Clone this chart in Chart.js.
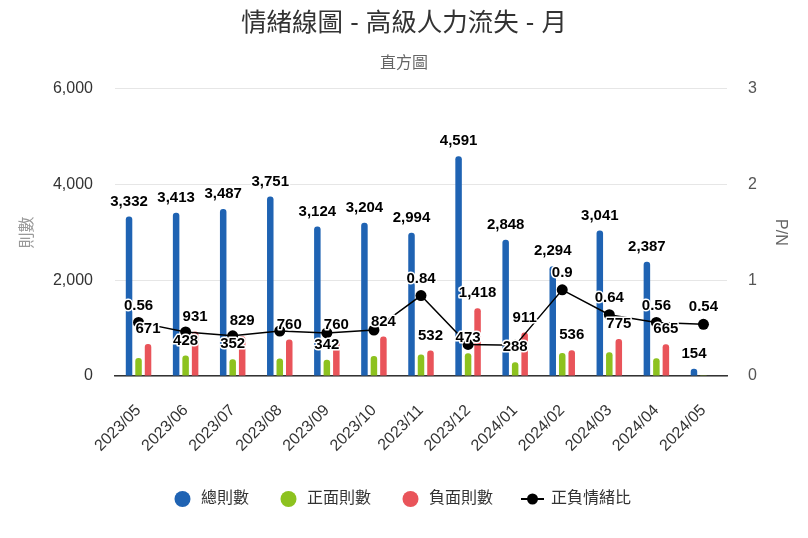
<!DOCTYPE html>
<html>
<head>
<meta charset="utf-8">
<script src="https://cdn.jsdelivr.net/npm/chart.js@4.4.1/dist/chart.umd.min.js"></script>
<style>
  html, body { margin: 0; padding: 0; background: #ffffff; }
  #wrap { width: 808px; height: 538px; }
</style>
</head>
<body>
<div id="wrap"><canvas id="c" width="808" height="538"></canvas></div>
<script>
// ---- data ----
const categories = ['2023/05','2023/06','2023/07','2023/08','2023/09','2023/10','2023/11','2023/12','2024/01','2024/02','2024/03','2024/04','2024/05'];
const totalCounts    = [3332, 3413, 3487, 3751, 3124, 3204, 2994, 4591, 2848, 2294, 3041, 2387, 154];
const positiveCounts = [376, 428, 352, 365, 342, 420, 447, 473, 288, 482, 496, 372, 7];
const negativeCounts = [671, 931, 829, 760, 760, 824, 532, 1418, 911, 536, 775, 665, 13];
const pnRatio        = [0.56, 0.46, 0.42, 0.47, 0.45, 0.48, 0.84, 0.33, 0.32, 0.9, 0.64, 0.56, 0.54];
const countAxisTicks = [0, 2000, 4000, 6000];
const ratioAxisTicks = [0, 1, 2, 3];
const seriesNames = ['總則數', '正面則數', '負面則數', '正負情緒比'];

const FONT = '"Liberation Sans", "Noto Sans CJK TC", Arial, sans-serif';
const BLUE = '#1f63b3', GREEN = '#8dc21f', RED = '#e9545a';
const LABEL_BOX_H = 19.5;

function circleIcon(color) {
  const c = document.createElement('canvas');
  c.width = 22; c.height = 18;
  const g = c.getContext('2d');
  g.fillStyle = color;
  g.beginPath(); g.arc(8.5, 9, 8, 0, Math.PI * 2); g.fill();
  return c;
}
function lineIcon() {
  const c = document.createElement('canvas');
  c.width = 30; c.height = 14;
  const g = c.getContext('2d');
  g.strokeStyle = '#000'; g.lineWidth = 2;
  g.beginPath(); g.moveTo(1, 7); g.lineTo(24, 7); g.stroke();
  g.fillStyle = '#000';
  g.beginPath(); g.arc(12.5, 7, 5.5, 0, Math.PI * 2); g.fill();
  return c;
}
const legendIcons = [circleIcon(BLUE), circleIcon(GREEN), circleIcon(RED), lineIcon()];

const dataLabelPlugin = {
  id: 'dataLabels',
  afterDatasetsDraw(chart) {
    const ctx = chart.ctx;
    ctx.save();
    ctx.font = 'bold 15px ' + FONT;
    const items = [];
    chart.data.datasets.forEach((ds, di) => {
      const meta = chart.getDatasetMeta(di);
      if (meta.hidden) return;
      meta.data.forEach((el, i) => {
        const v = ds.data[i];
        if (v === null || v === undefined) return;
        if (ds.type === 'line') {
          items.push({x: el.x, y: el.y - 17, text: String(v), rank: -1});
        } else {
          items.push({x: el.x, y: el.y - 15, text: v.toLocaleString('en-US'), rank: el.base - el.y});
        }
      });
    });
    items.sort((a, b) => b.rank - a.rank);
    const shown = [];
    for (const it of items) {
      it.w = ctx.measureText(it.text).width;
      const clash = shown.some(s => Math.abs(s.x - it.x) < (s.w + it.w) / 2 && Math.abs(s.y - it.y) < LABEL_BOX_H);
      if (!clash) shown.push(it);
    }
    ctx.textAlign = 'center';
    ctx.textBaseline = 'middle';
    ctx.lineJoin = 'round';
    for (const it of shown) {
      ctx.strokeStyle = '#ffffff';
      ctx.lineWidth = 3;
      ctx.strokeText(it.text, it.x, it.y);
      ctx.fillStyle = '#000000';
      ctx.fillText(it.text, it.x, it.y);
    }
    ctx.restore();
  }
};

const barCommon = {
  type: 'bar',
  yAxisID: 'y',
  categoryPercentage: 0.605,
  barPercentage: 0.685,
  borderRadius: 3,
  borderSkipped: 'bottom',
  order: 1
};

new Chart(document.getElementById('c'), {
  data: {
    labels: categories,
    datasets: [
      Object.assign({}, barCommon, {label: seriesNames[0], data: totalCounts, backgroundColor: BLUE}),
      Object.assign({}, barCommon, {label: seriesNames[1], data: positiveCounts, backgroundColor: GREEN}),
      Object.assign({}, barCommon, {label: seriesNames[2], data: negativeCounts, backgroundColor: RED}),
      {
        type: 'line', label: seriesNames[3], data: pnRatio, yAxisID: 'y1',
        borderColor: '#000', backgroundColor: '#000', borderWidth: 1.5,
        pointRadius: 5.5, pointHoverRadius: 5.5, pointBackgroundColor: '#000', pointBorderWidth: 0,
        tension: 0, order: 0
      }
    ]
  },
  options: {
    responsive: false,
    devicePixelRatio: 1,
    animation: false,
    events: [],
    layout: { padding: { left: 0, right: 0, top: 0, bottom: 21 } },
    plugins: {
      tooltip: { enabled: false },
      title: {
        display: true, text: '情緒線圖 - 高級人力流失 - 月', color: '#333333',
        font: { family: FONT, size: 25.5, weight: 'normal' },
        padding: { top: 9, bottom: 0 }
      },
      subtitle: {
        display: true, text: '直方圖', color: '#666666',
        font: { family: FONT, size: 16, weight: 'normal' },
        padding: { top: 14, bottom: 16 }
      },
      legend: {
        position: 'bottom',
        labels: {
          usePointStyle: true,
          boxWidth: 16, boxHeight: 16,
          padding: 34,
          color: '#333333',
          font: { family: FONT, size: 16 },
          sort: (a, b) => a.datasetIndex - b.datasetIndex,
          generateLabels(chart) {
            const base = Chart.defaults.plugins.legend.labels.generateLabels(chart);
            return base.map(l => Object.assign(l, { pointStyle: legendIcons[l.datasetIndex], lineWidth: 0, strokeStyle: 'rgba(0,0,0,0)' }));
          }
        }
      }
    },
    scales: {
      x: {
        offset: true,
        grid: { display: false, drawTicks: false },
        border: { display: true, color: '#333333', width: 1.5 },
        ticks: { autoSkip: false, minRotation: 45, maxRotation: 45, padding: 25, color: '#333333', font: { family: FONT, size: 16 } },
        afterFit(s) { s.height = 81; }
      },
      y: {
        position: 'left', min: countAxisTicks[0], max: countAxisTicks[countAxisTicks.length - 1],
        afterBuildTicks(s) { s.ticks = countAxisTicks.map(v => ({ value: v })); },
        grid: { color: '#e6e6e6', lineWidth: 1, drawTicks: false },
        border: { display: false },
        ticks: { padding: 22, color: '#333333', font: { family: FONT, size: 16 }, callback: v => Number(v).toLocaleString('en-US') },
        title: { display: true, text: '則數', color: '#999999', font: { family: FONT, size: 16 }, padding: { top: 18.4, bottom: 0 } },
        afterFit(s) { s.width = 115; }
      },
      y1: {
        position: 'right', min: ratioAxisTicks[0], max: ratioAxisTicks[ratioAxisTicks.length - 1],
        afterBuildTicks(s) { s.ticks = ratioAxisTicks.map(v => ({ value: v })); },
        grid: { display: false, drawTicks: false },
        border: { display: false },
        ticks: { padding: 21, color: '#555555', font: { family: FONT, size: 16 } },
        title: { display: true, text: 'P/N', color: '#666666', font: { family: FONT, size: 16 }, padding: { top: 18.4, bottom: 0 } },
        afterFit(s) { s.width = 81; }
      }
    }
  },
  plugins: [dataLabelPlugin]
});
</script>
</body>
</html>
